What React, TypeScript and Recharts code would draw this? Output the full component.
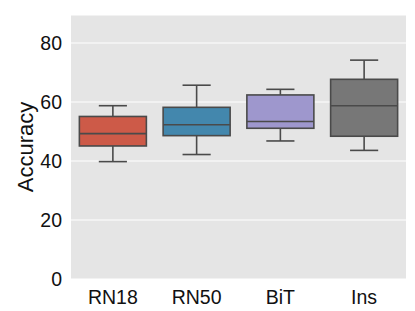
import { BarChart, Bar, CartesianGrid, Cell, XAxis, YAxis } from "recharts";

const models = ["RN18", "RN50", "BiT", "Ins"];
const whiskerLow = [39.8, 42.2, 46.8, 43.6];
const q1 = [45.1, 48.6, 51.1, 48.4];
const median = [49.3, 52.3, 53.4, 58.75];
const q3 = [55.1, 58.2, 62.4, 67.7];
const whiskerHigh = [58.75, 65.7, 64.3, 74.2];
const yTicks = [0, 20, 40, 60, 80];

const boxColors = ["#cd5a48", "#4387ad", "#9e97cd", "#777777"];
const edge = "#4a4a4a";
const font = "'Liberation Sans', Arial, sans-serif";

const data = models.map((name, i) => ({
  name,
  range: [whiskerLow[i], whiskerHigh[i]],
  low: whiskerLow[i],
  q1: q1[i],
  median: median[i],
  q3: q3[i],
  high: whiskerHigh[i],
}));

// bar spans low..high, so the inner values are placed on the same scale
function BoxShape(props: any) {
  const { x, y, width, height, payload, fill } = props;
  const { low, high } = payload;
  const py = (v: number) => y + (height * (high - v)) / (high - low);
  const cx = x + width / 2;
  const cap = width * 0.21;
  return (
    <g stroke={edge} strokeWidth={1.6}>
      <line x1={cx} x2={cx} y1={py(high)} y2={py(payload.q3)} />
      <line x1={cx} x2={cx} y1={py(payload.q1)} y2={py(low)} />
      <line x1={cx - cap} x2={cx + cap} y1={py(high)} y2={py(high)} />
      <line x1={cx - cap} x2={cx + cap} y1={py(low)} y2={py(low)} />
      <rect
        x={x}
        y={py(payload.q3)}
        width={width}
        height={py(payload.q1) - py(payload.q3)}
        fill={fill}
      />
      <line x1={x} x2={x + width} y1={py(payload.median)} y2={py(payload.median)} />
    </g>
  );
}

function YLabel(props: any) {
  const { viewBox } = props;
  const lx = viewBox.x + 25;
  const ly = viewBox.y + viewBox.height / 2;
  return (
    <text
      x={lx}
      y={ly}
      transform={`rotate(-90, ${lx}, ${ly})`}
      textAnchor="middle"
      dominantBaseline="central"
      fontSize={22}
      fontFamily={font}
      fill="#111"
    >
      Accuracy
    </text>
  );
}

export default function App() {
  return (
    <div style={{ position: "absolute", left: 0, top: 0, background: "#fff" }}>
      <BarChart
        width={415}
        height={311}
        data={data}
        margin={{ top: 15, right: 9, bottom: 0, left: 0 }}
        barCategoryGap="10%"
      >
        <CartesianGrid fill="#e5e5e5" stroke="#ffffff" strokeWidth={1.2} vertical={false} />
        <XAxis
          dataKey="name"
          height={32}
          axisLine={false}
          tickLine={false}
          tickSize={6}
          tickMargin={5}
          tick={{ fontSize: 19.5, fontFamily: font, fill: "#111" }}
        />
        <YAxis
          width={71}
          domain={[0, 89.5]}
          ticks={yTicks}
          axisLine={false}
          tickLine={false}
          tickSize={6}
          tickMargin={3}
          tick={{ fontSize: 19.5, fontFamily: font, fill: "#111" }}
          label={{ content: YLabel }}
        />
        <Bar dataKey="range" shape={BoxShape} isAnimationActive={false}>
          {data.map((d, i) => (
            <Cell key={d.name} fill={boxColors[i]} />
          ))}
        </Bar>
      </BarChart>
    </div>
  );
}
